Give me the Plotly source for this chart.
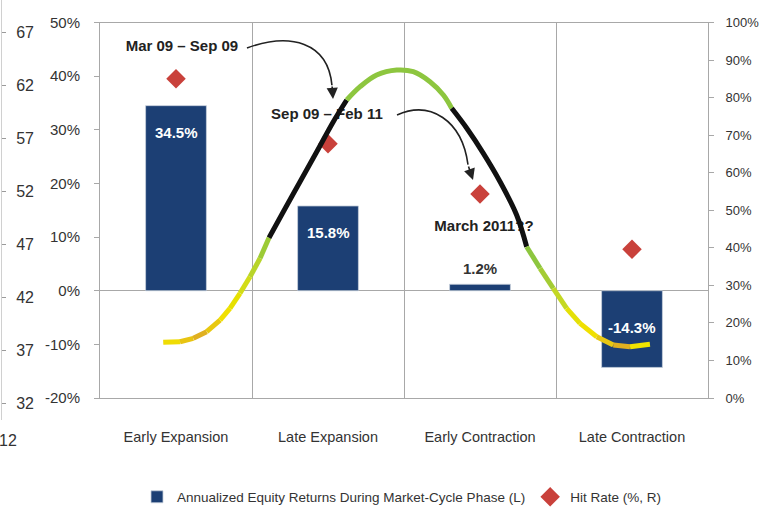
import plotly.graph_objects as go

# ---------------- data ----------------
categories = ["Early Expansion", "Late Expansion", "Early Contraction", "Late Contraction"]
equity_returns = [34.5, 15.8, 1.2, -14.3]          # left axis, %
hit_rate = [85.0, 67.7, 54.3, 39.6]                 # right axis, %
bar_labels = ["34.5%", "15.8%", "1.2%", "-14.3%"]

left_ticks = [-20, -10, 0, 10, 20, 30, 40, 50]
right_ticks = [0, 10, 20, 30, 40, 50, 60, 70, 80, 90, 100]
far_left_ticks = [32, 37, 42, 47, 52, 57, 62, 67]

# market-cycle curve (x in category units 0..4, y in left-axis %)
cycle_x = [0.416, 0.526, 0.614, 0.702, 0.790, 0.855, 0.921, 0.987, 1.053, 1.112,
           1.206, 1.316, 1.426, 1.535, 1.623, 1.711, 1.820, 1.952, 2.061, 2.171,
           2.259, 2.314, 2.413, 2.522, 2.632, 2.741, 2.807, 2.895, 2.982, 3.070,
           3.158, 3.268, 3.377, 3.487, 3.618]
cycle_y = [-9.62, -9.51, -8.87, -7.64, -5.48, -3.28, -0.48, 2.61, 6.04, 9.88,
           14.73, 20.32, 25.91, 31.51, 35.55, 38.03, 40.21, 41.14, 40.83, 38.96,
           36.48, 34.00, 30.28, 25.61, 20.32, 14.11, 8.20, 4.18, 0.45, -3.28,
           -6.08, -8.58, -10.12, -10.44, -9.99]
segment_colors = ["#efdc04", "#e8c412", "#e0b020", "#e8c810", "#f0e000", "#e6e000",
                  "#d2dc18", "#b8d42a", "#9ccb36",
                  "#111111", "#111111", "#111111", "#111111", "#111111",
                  "#8dc63f", "#8dc63f", "#8dc63f", "#8dc63f", "#8dc63f", "#8dc63f", "#8dc63f",
                  "#111111", "#111111", "#111111", "#111111", "#111111",
                  "#8dc63f", "#a4cc34", "#c4d824", "#e4e008", "#f0e000", "#e8c814",
                  "#e0b020", "#f0e400"]

notes = ["Mar 09 – Sep 09", "Sep 09 – Feb 11", "March 2011??"]
note_x = [0.539, 1.493, 2.526]
note_y = [45.4, 32.8, 11.9]

# ---------------- styles ----------------
FONT = "Liberation Sans, Arial, sans-serif"
GRID = "#a8a8a8"
BAR = "#1c3f74"
RED = "#c9413b"
TXT = "#333333"

W, H = 760, 513
px0, px1 = 100, 708          # plot left / right pixels
py_top, py_bot = 22.5, 398   # plot top / bottom pixels

xdom = [px0 / W, px1 / W]
ydom = [(H - py_bot) / H, (H - py_top) / H]

fig = go.Figure()

# bars
fig.add_trace(go.Bar(
    x=categories, y=equity_returns, name="Annualized Equity Returns During Market-Cycle Phase (L)",
    marker=dict(color=BAR, line=dict(color="#c8d0dc", width=0.8)), width=0.4,
    xaxis="x", yaxis="y",
))

# hit rate diamonds
fig.add_trace(go.Scatter(
    x=categories, y=hit_rate, name="Hit Rate (%, R)", mode="markers",
    marker=dict(symbol="diamond", color=RED, size=15),
    xaxis="x", yaxis="y2",
))

# note texts (drawn beneath the curve)
fig.add_trace(go.Scatter(
    x=note_x, y=note_y, text=notes, mode="text", showlegend=False,
    textfont=dict(family=FONT, size=15, color="#222222", weight="bold"),
    xaxis="x2", yaxis="y", hoverinfo="skip",
))

# cycle curve, drawn as colour runs
runs = []
for i, c in enumerate(segment_colors):
    if runs and runs[-1][0] == c:
        runs[-1][1].append(i + 1)
    else:
        runs.append([c, [i, i + 1]])
for c, idx in runs:
    fig.add_trace(go.Scatter(
        x=[cycle_x[k] for k in idx], y=[cycle_y[k] for k in idx], mode="lines",
        line=dict(color=c, width=5, shape="spline"), showlegend=False,
        xaxis="x2", yaxis="y", hoverinfo="skip",
    ))

# dummy trace to carry the far-left axis
fig.add_trace(go.Scatter(x=[None], y=[None], xaxis="x3", yaxis="y3", showlegend=False))

# bar labels
label_yshift = [-27, -27, 16, 40]
label_colors = ["white", "white", TXT, "white"]
for cat, v, t, s, col in zip(categories, equity_returns, bar_labels, label_yshift, label_colors):
    fig.add_annotation(x=cat, y=v, xref="x", yref="y", text=f"<b>{t}</b>", showarrow=False,
                       yshift=s, font=dict(family=FONT, size=15, color=col))

# curved arrows
fig.add_shape(type="path", xref="x2", yref="y",
              path="M 0.967,45.25 C 1.25,48.2 1.5,46.4 1.526,38.3",
              line=dict(color="#222222", width=1.6))
fig.add_annotation(x=1.533, y=35.74, xref="x2", yref="y", text="", showarrow=True,
                   ax=-1, ay=-14, arrowhead=2, arrowsize=1.4, arrowwidth=1.6, arrowcolor="#222222")
fig.add_shape(type="path", xref="x2", yref="y",
              path="M 1.954,32.75 C 2.171,35.55 2.382,31.82 2.421,23.5",
              line=dict(color="#222222", width=1.6))
fig.add_annotation(x=2.454, y=20.64, xref="x2", yref="y", text="", showarrow=True,
                   ax=-5, ay=-15, arrowhead=2, arrowsize=1.4, arrowwidth=1.6, arrowcolor="#222222")

# cut-off label at far left
fig.add_annotation(x=0, y=(H - 440) / H, xref="paper", yref="paper", text="12", showarrow=False,
                   xanchor="left", yanchor="middle", xshift=-3,
                   font=dict(family=FONT, size=16, color=TXT))

# far-left axis geometry: 67 at y=32px, 32 at y=403px
ppu = (403 - 32) / 35.0
y3_top_px, y3_bot_px = 0, 420
y3_range = [32 - (y3_bot_px - 403) / ppu, 67 + (32 - y3_top_px) / ppu]

fig.update_layout(
    width=W, height=H,
    margin=dict(l=0, r=0, t=0, b=0, autoexpand=False),
    paper_bgcolor="white", plot_bgcolor="rgba(0,0,0,0)",
    font=dict(family=FONT, size=15, color=TXT),
    bargap=0.6,
    showlegend=True,
    legend=dict(orientation="h", x=137 / W, xanchor="left", y=(H - 497) / H, yanchor="middle",
                font=dict(family=FONT, size=13.5, color=TXT), itemwidth=30, traceorder="normal",
                bgcolor="rgba(0,0,0,0)"),
    xaxis=dict(domain=xdom, anchor="y", type="category", showgrid=True, gridcolor=GRID, gridwidth=1,
               tickson="boundaries", ticks="", showline=True, linecolor=GRID, mirror=True,
               tickfont=dict(family=FONT, size=14.5, color=TXT), ticklabelstandoff=26,
               range=[-0.5, 3.5]),
    xaxis2=dict(overlaying="x", anchor="y", range=[0, 4], visible=False),
    xaxis3=dict(domain=[0, 0.002], anchor="y3", range=[0, 1], visible=False),
    yaxis=dict(domain=ydom, anchor="x", range=[-20, 50], tickvals=left_ticks,
               ticktext=[f"{v}%" for v in left_ticks], showgrid=False, zeroline=True,
               zerolinecolor=GRID, zerolinewidth=1, showline=True, linecolor=GRID,
               ticks="outside", ticklen=5, tickcolor=GRID, ticklabelstandoff=11,
               tickfont=dict(family=FONT, size=15, color=TXT)),
    yaxis2=dict(overlaying="y", anchor="x", side="right", range=[0, 100], tickvals=right_ticks,
                ticktext=[f"{v}%" for v in right_ticks], showgrid=False, zeroline=False,
                showline=True, linecolor=GRID, ticks="outside", ticklen=5, tickcolor=GRID,
                ticklabelstandoff=9, tickfont=dict(family=FONT, size=13, color=TXT)),
    yaxis3=dict(domain=[(H - y3_bot_px) / H, (H - y3_top_px) / H], anchor="free", position=1 / W,
                side="right", range=y3_range, tickvals=far_left_ticks,
                ticktext=[str(v) for v in far_left_ticks], showgrid=False, zeroline=False,
                showline=True, linecolor="#d0d0d0", ticks="outside", ticklen=4, tickcolor="#9a9a9a",
                ticklabelstandoff=7, tickfont=dict(family=FONT, size=16, color=TXT)),
)

fig.write_html("out.html", config={"displayModeBar": False},
               post_script="document.body.style.margin='0px';")
